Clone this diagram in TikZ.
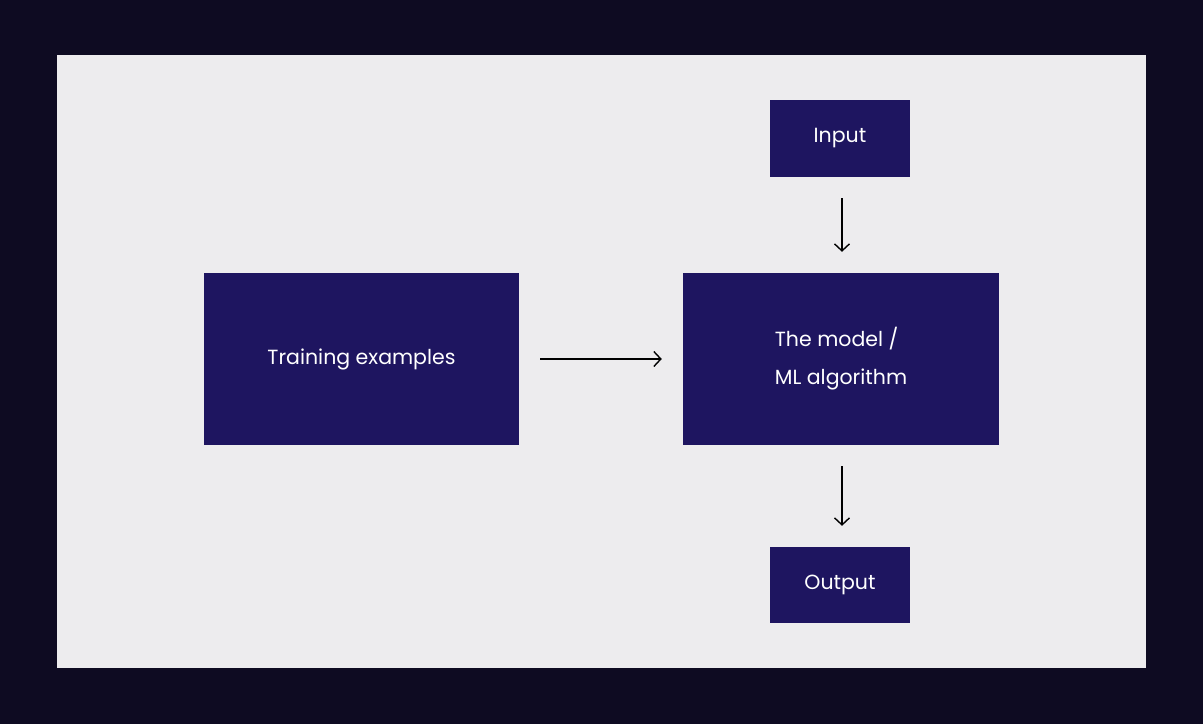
\documentclass[tikz,border=0pt]{standalone}
\usepackage{fontspec}
\setmainfont{Poppins}
\usetikzlibrary{arrows.meta}
\definecolor{bgdark}{HTML}{0E0B22}
\definecolor{panel}{HTML}{EDECEE}
\definecolor{boxc}{HTML}{1E1560}
\tikzset{
  blk/.style={fill=boxc, text=white, font=\fontsize{20.5}{38}\selectfont, inner sep=0pt, align=left},
  arr/.style={line width=1.4pt, -{Straight Barb[length=7pt,width=15pt,line width=1.4pt]}, shorten <=21pt, shorten >=21pt}
}
\begin{document}
\begin{tikzpicture}[x=1pt,y=-1pt]
\useasboundingbox (0,0) rectangle (1203,724);
\fill[bgdark] (0,0) rectangle (1203,724);
\fill[panel] (57,55) rectangle (1146,668);
\node[blk, minimum width=140pt, minimum height=77pt] (in) at (840,138.5) {Input};
\node[blk, minimum width=315pt, minimum height=172pt] (tr) at (361.5,359) {Training examples};
\node[blk, minimum width=316pt, minimum height=172pt] (mo) at (841,359) {The model /\\ML algorithm};
\node[blk, minimum width=140pt, minimum height=76pt] (out) at (840,585) {Output};
\draw[arr] (tr.east) -- (mo.west);
\draw[arr] (in.south -| 842,0) -- (mo.north -| 842,0);
\draw[arr] (mo.south -| 842,0) -- (out.north -| 842,0);
\end{tikzpicture}
\end{document}
